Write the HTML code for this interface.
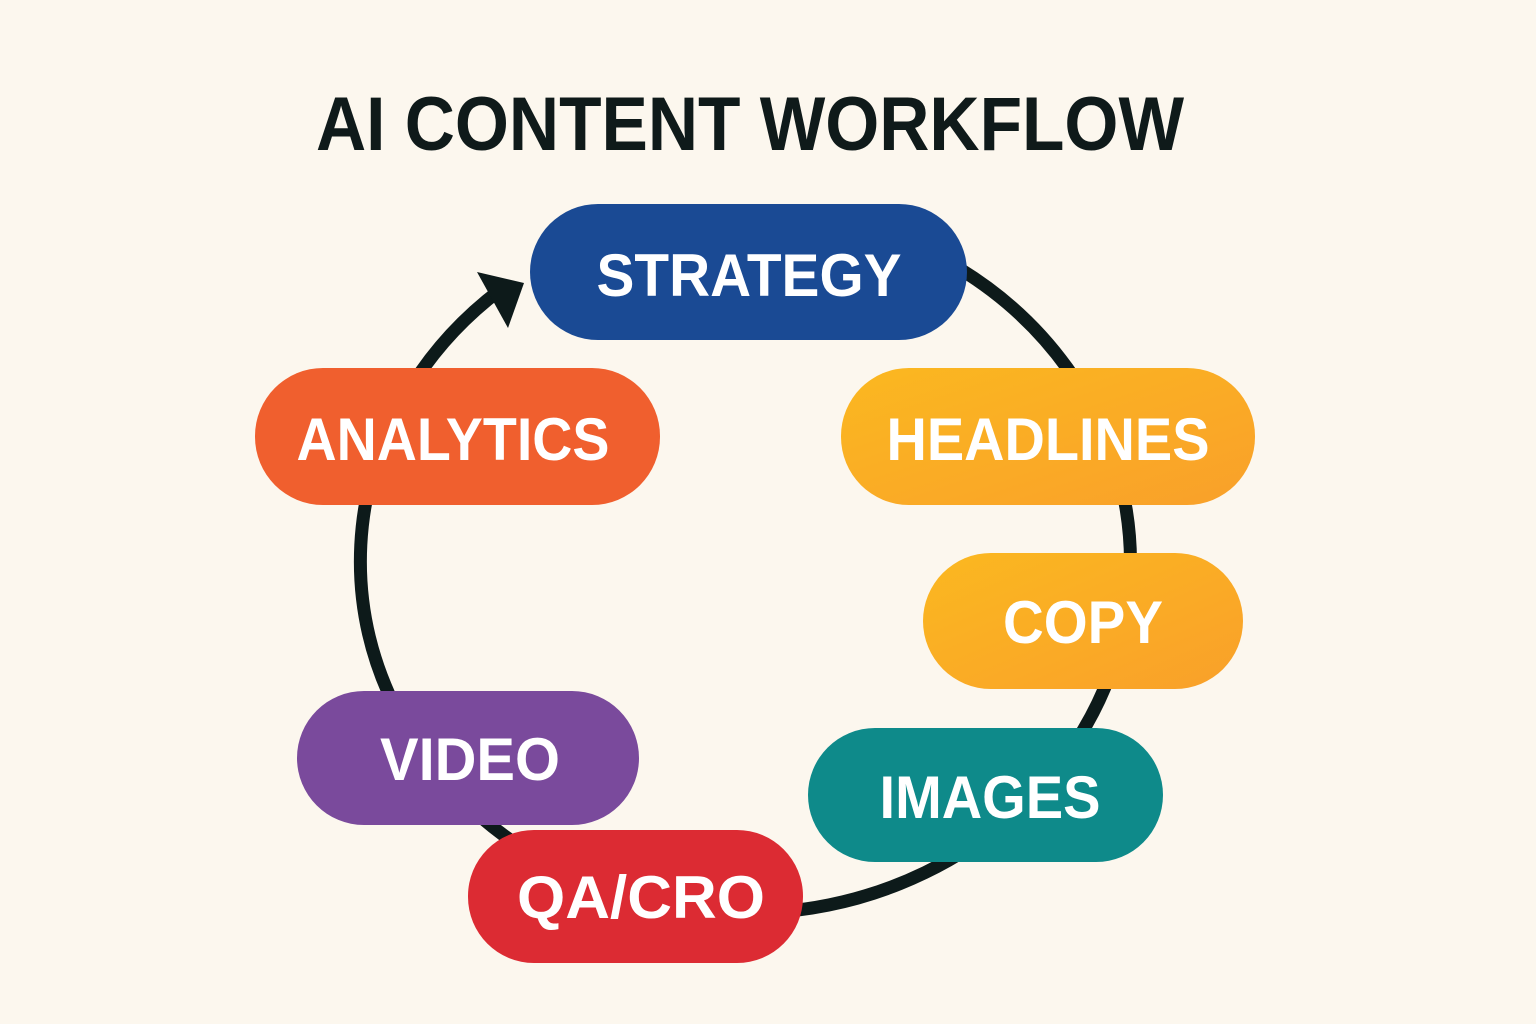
<!DOCTYPE html>
<html><head><meta charset="utf-8"><style>
html,body{margin:0;padding:0;background:#fcf7ee;}
svg{display:block}
</style></head><body>
<svg width="1536" height="1024" viewBox="0 0 1536 1024" xmlns="http://www.w3.org/2000/svg">
<rect width="1536" height="1024" fill="#fcf7ee"/>
<text x="750" y="150" text-anchor="middle" font-family="Liberation Sans, sans-serif" font-weight="bold" font-size="76" fill="#0f1a1a" textLength="868" lengthAdjust="spacingAndGlyphs">AI CONTENT WORKFLOW</text>
<path d="M500,290 A385,352 0 1,0 960,269" fill="none" stroke="#0d1a1a" stroke-width="13"/>
<polygon points="524,283 477,272 508,328" fill="#0d1a1a"/>
<defs>
<linearGradient id="gy" x1="0" y1="0" x2="1" y2="1"><stop offset="0" stop-color="#fbb820"/><stop offset="1" stop-color="#f9a02a"/></linearGradient>
</defs>
<g font-family="Liberation Sans, sans-serif" font-weight="bold" font-size="60" fill="#fff" text-anchor="middle">
<rect x="530" y="204" width="437" height="136" rx="68" fill="#1a4a94"/>
<text x="749" y="296" textLength="305" lengthAdjust="spacingAndGlyphs">STRATEGY</text>
<rect x="841" y="368" width="414" height="137" rx="68" fill="url(#gy)"/>
<text x="1048" y="460" textLength="323" lengthAdjust="spacingAndGlyphs">HEADLINES</text>
<rect x="923" y="553" width="320" height="136" rx="68" fill="url(#gy)"/>
<text x="1083" y="643" textLength="160" lengthAdjust="spacingAndGlyphs">COPY</text>
<rect x="808" y="728" width="355" height="134" rx="67" fill="#0e8a8a"/>
<text x="990" y="818" textLength="221" lengthAdjust="spacingAndGlyphs">IMAGES</text>
<rect x="297" y="691" width="342" height="134" rx="67" fill="#7a4a9c"/>
<text x="470" y="780" textLength="180" lengthAdjust="spacingAndGlyphs">VIDEO</text>
<rect x="468" y="830" width="335" height="133" rx="66" fill="#dc2b33"/>
<text x="641" y="918" textLength="248" lengthAdjust="spacingAndGlyphs">QA/CRO</text>
<rect x="255" y="368" width="405" height="137" rx="68" fill="#f05f2e"/>
<text x="453" y="460" textLength="313" lengthAdjust="spacingAndGlyphs">ANALYTICS</text>
</g>
</svg>
</body></html>
